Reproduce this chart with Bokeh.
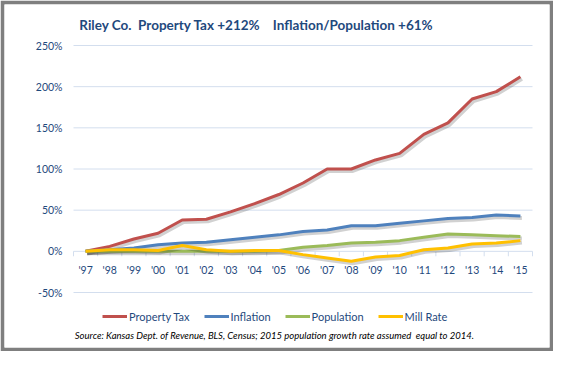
import numpy as np
from bokeh.plotting import figure
from bokeh.models import Range1d, Legend, LegendItem, Label, ColumnDataSource
from bokeh.core.properties import value
from bokeh.transform import dodge
from bokeh.embed import file_html
from bokeh.resources import INLINE

years = ["'97", "'98", "'99", "'00", "'01", "'02", "'03", "'04", "'05", "'06",
         "'07", "'08", "'09", "'10", "'11", "'12", "'13", "'14", "'15"]
property_tax = [0, 6, 15, 22, 38, 39, 48, 58, 69, 83, 100, 100, 111, 119, 142, 156, 185, 194, 212]
inflation = [0, 2, 4, 8, 10, 11, 14, 17, 20, 24, 26, 31, 31, 34, 37, 40, 41, 44, 43]
population = [0, 0, 0, 0, 0, 0, 0, 0, 1, 5, 7, 10, 11, 13, 17, 21, 20, 19, 18]
mill_rate = [0, 2, 2, 1, 7, 2, 0, 1, 1, -4, -8, -12, -7, -5, 2, 4, 9, 10, 13]
y_ticks = [-50, 0, 50, 100, 150, 200, 250]
y_tick_labels = ["-50%", "0%", "50%", "100%", "150%", "200%", "250%"]

series_names = ["Property Tax", "Inflation", "Population", "Mill Rate"]
series_values = [property_tax, inflation, population, mill_rate]
series_colors = ["#C0504D", "#4F81BD", "#9BBB59", "#FFC000"]

TEXT_BLUE = "#1F497D"
GRID = "#D3DEEE"
FONT = "Lato"

n = len(years)
idx = np.arange(n)

# layout in canvas pixels: 4px gray border, frame inside
W, H, B = 553, 351, 4
frame_l, frame_t = B, B
frame_r, frame_b = W - B, H - B
plot_l, plot_r = 73, 532          # pixel x of -0.5 and n-0.5
y_top_px, y_bot_px = 45, 292      # pixel y of 250% and -50%
ppx = (plot_r - plot_l) / n
ppy = (y_bot_px - y_top_px) / (max(y_ticks) - min(y_ticks))
x0 = -0.5 - (plot_l - frame_l) / ppx
x1 = n - 0.5 + (frame_r - plot_r) / ppx
y1 = max(y_ticks) + (y_top_px - frame_t) / ppy
y0 = min(y_ticks) - (frame_b - y_bot_px) / ppy


def dx(px):
    return x0 + (px - frame_l) / ppx


def dy(py):
    return y1 - (py - frame_t) / ppy


p = figure(width=W, height=H, output_backend="svg", toolbar_location=None,
           x_range=Range1d(x0, x1), y_range=Range1d(y0, y1),
           x_axis_location=None, y_axis_location=None, min_border=B)
p.border_fill_color = "#7F7F7F"
p.background_fill_color = "white"
p.outline_line_color = None
p.grid.visible = False

# horizontal gridlines and value labels
p.segment(x0=np.full(len(y_ticks), -0.5), x1=np.full(len(y_ticks), n - 0.5),
          y0=y_ticks, y1=y_ticks, line_color=GRID, line_width=1)
p.text(x=np.full(len(y_ticks), -0.5), y=y_ticks, text=y_tick_labels, x_offset=-11,
       text_align="right", text_baseline="middle", text_font=value(FONT),
       text_font_size="10.5px", text_color=TEXT_BLUE)

# category axis drawn at 0%
bounds = np.arange(n + 1) - 0.5
p.segment(x0=bounds, x1=bounds, y0=np.zeros(len(bounds)), y1=np.full(len(bounds), -6.0),
          line_color=GRID, line_width=1)
p.text(x=idx, y=np.zeros(n), text=years, y_offset=19, text_align="center",
       text_baseline="middle", text_font=value(FONT), text_font_size="10.5px",
       text_color=TEXT_BLUE)

items = []
for name, vals, col in zip(series_names, series_values, series_colors):
    src = ColumnDataSource(dict(x=idx, y=vals))
    # soft drop shadow
    p.line(x=dodge("x", 1.5 / ppx, range=p.x_range), y=dodge("y", -2.0 / ppy, range=p.y_range),
           source=src, line_color="black", line_alpha=0.18, line_width=4)
    r = p.line("x", "y", source=src, line_color=col, line_width=3)
    items.append(LegendItem(label=name, renderers=[r]))

leg_h = 13
leg_center = 316
legend = Legend(items=items, orientation="horizontal",
                location=(102 - frame_l, frame_b - (leg_center - leg_h / 2) - leg_h),
                glyph_width=25, glyph_height=12, label_standoff=2, spacing=14,
                padding=0, margin=0, border_line_color=None, background_fill_alpha=0,
                label_text_font=FONT, label_text_font_size="11px", label_text_color=TEXT_BLUE,
                label_height=leg_h)
p.add_layout(legend, "center")

title = Label(x=dx(256), y=dy(24),
              text="Riley Co.\u00a0 Property Tax +212%\u00a0 \u00a0 Inflation/Population +61%",
              text_align="center", text_baseline="middle", text_font=FONT,
              text_font_size="13.5px", text_font_style="bold", text_color=TEXT_BLUE)
p.add_layout(title)

source_note = Label(x=dx(274), y=dy(335),
                    text="Source: Kansas Dept. of Revenue, BLS, Census; 2015 population growth rate assumed\u00a0 equal to 2014.",
                    text_align="center", text_baseline="middle", text_font=FONT,
                    text_font_size="9.5px", text_font_style="italic", text_color="black")
p.add_layout(source_note)

open("out.html", "w").write(file_html(p, INLINE))
